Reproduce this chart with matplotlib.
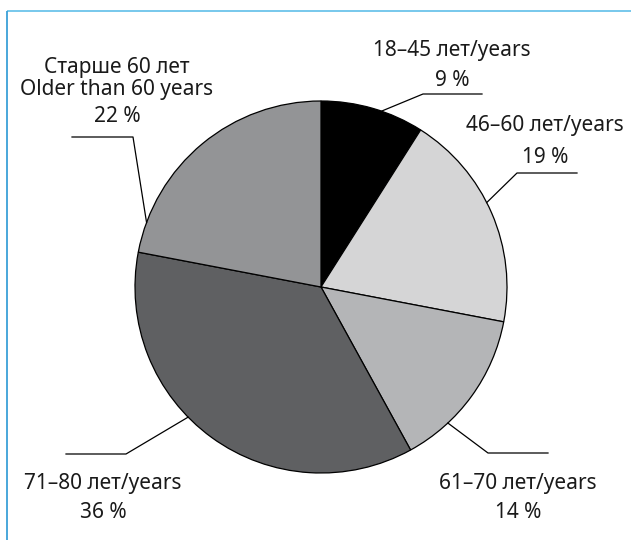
import matplotlib
matplotlib.use("Agg")
import matplotlib.pyplot as plt
import numpy as np

# age groups (ru/en) and shares, %
groups = ["18–45 лет/years", "46–60 лет/years", "61–70 лет/years",
          "71–80 лет/years", "Старше 60 лет\nOlder than 60 years"]
shares = [9, 19, 14, 36, 22]
colors = ["#000000", "#d5d5d6", "#b4b5b7", "#5f6062", "#939496"]

plt.rcParams["font.family"] = ["Noto Sans", "DejaVu Sans"]
fs = 15

W, H = 631, 540
cx, cy, R = 321, 287, 186

fig = plt.figure(figsize=(W / 100, H / 100), dpi=100)
ax = fig.add_axes([0, 0, 1, 1])

# y axis is inverted (pixel-like coords), so counterclock=True runs clockwise on screen
ax.pie(shares, colors=colors, startangle=-90, counterclock=True,
       center=(cx, cy), radius=R,
       wedgeprops=dict(edgecolor="black", linewidth=0.9))
ax.set_xlim(0, W)
ax.set_ylim(H, 0)
ax.set_aspect("equal")
ax.axis("off")

# light blue frame, top and left
ax.plot([7, W], [11, 11], color="#6cc4ea", lw=1.3, solid_capstyle="butt")
ax.plot([7, 7], [11, H], color="#3aa0d8", lw=1.3, solid_capstyle="butt")

# leader lines: start angle on the rim, elbow, end of the shelf
leaders = [(71, (423, 94), 482),
           (27, (517, 173), 577),
           (-47, (488, 453), 548),
           (224.4, (126, 454), 66),
           (159.7, (133, 137), 72)]
for ang, (ex, ey), endx in leaders:
    a = np.radians(ang)
    sx, sy = cx + R * np.cos(a), cy - R * np.sin(a)
    ax.plot([sx, ex, endx], [sy, ey, ey], color="black", lw=0.9)

# label x centre and baselines of each text line
label_pos = [(452, [56, 86]),
             (545, [131, 163]),
             (518, [489, 518]),
             (103, [489, 518]),
             (117, [73, 95, 122])]
for name, val, (tx, ys) in zip(groups, shares, label_pos):
    lines = name.split("\n") + [f"{val} %"]
    for txt, ty in zip(lines, ys):
        ax.text(tx, ty, txt, ha="center", va="baseline", fontsize=fs,
                color="#1a1a1a")

plt.savefig("out.png", dpi=100)
